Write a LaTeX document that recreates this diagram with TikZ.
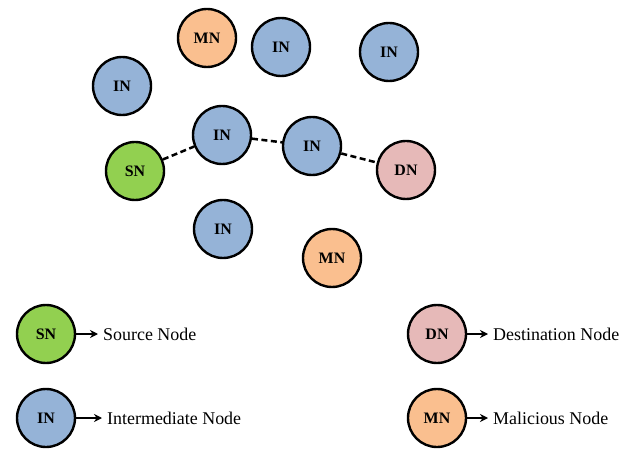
\documentclass[tikz,border=0pt]{standalone}
\usepackage{fontspec}
\setmainfont{Liberation Serif}
\usetikzlibrary{arrows.meta}
\definecolor{sngreen}{HTML}{92D050}
\definecolor{inblue}{HTML}{95B3D7}
\definecolor{mnorange}{HTML}{FABF8F}
\definecolor{dnpink}{HTML}{E6B9B8}

\begin{document}
\begin{tikzpicture}%
  [x=1bp, y=-1bp,
   >={Stealth[length=8bp, width=8bp]},
   shorten >=1pt,
   nd/.style={circle, draw, line width=2.4bp, minimum size=58bp, inner sep=0pt,
              font=\fontsize{16}{16}\selectfont\bfseries},
   lbl/.style={anchor=west, inner sep=0pt, font=\fontsize{18}{18}\selectfont},
  ]
\useasboundingbox (0,0) rectangle (624,450);

\node[nd, fill=mnorange] (1) at (207,38) {MN};
\node[nd, fill=inblue]   (2) at (281,47) {IN};
\node[nd, fill=inblue]   (3) at (389,52) {IN};
\node[nd, fill=inblue]   (4) at (122,86) {IN};
\node[nd, fill=inblue]   (5) at (222,135) {IN};
\node[nd, fill=inblue]   (6) at (312,146) {IN};
\node[nd, fill=sngreen]  (7) at (135,171) {SN};
\node[nd, fill=dnpink]   (8) at (406,170) {DN};
\node[nd, fill=inblue]   (9) at (223,229) {IN};
\node[nd, fill=mnorange] (10) at (332,258) {MN};

% route
\path[line width=2.5bp, dash pattern=on 6bp off 3.5bp, shorten >=0pt]
   (7) edge (5)
   (5) edge (6)
   (6) edge (8);

% legend
\node[nd, fill=sngreen]  (11) at (46,334) {SN};
\node[nd, fill=inblue]   (12) at (46,418) {IN};
\node[nd, fill=dnpink]   (13) at (437,334) {DN};
\node[nd, fill=mnorange] (14) at (437,418) {MN};

\node[lbl] (s) at (103,334) {Source Node};
\node[lbl] (i) at (107,418) {Intermediate Node};
\node[lbl] (d) at (493,334) {Destination Node};
\node[lbl] (m) at (493,418) {Malicious Node};

\path[->, line width=2bp, shorten >=5bp]
   (11) edge (s)
   (12) edge (i)
   (13) edge (d)
   (14) edge (m);
\end{tikzpicture}
\end{document}
